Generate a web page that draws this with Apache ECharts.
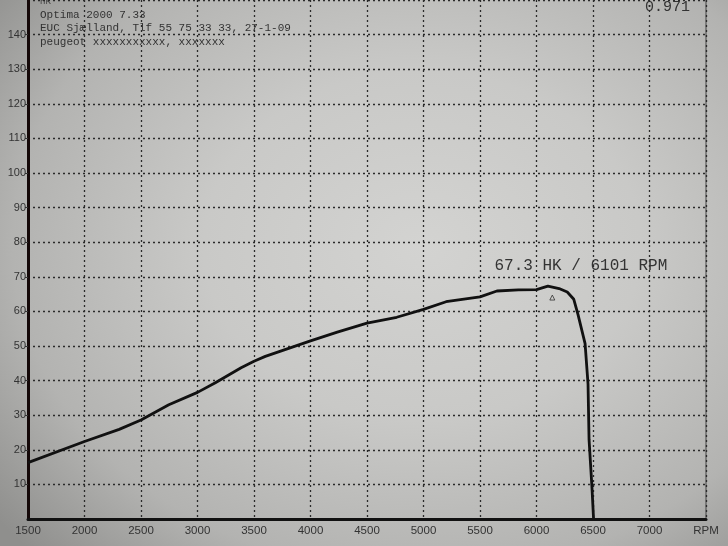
<!DOCTYPE html>
<html>
<head>
<meta charset="utf-8">
<script src="https://cdn.jsdelivr.net/npm/echarts@6/dist/echarts.min.js"></script>
<style>
html,body{margin:0;padding:0;width:728px;height:546px;overflow:hidden;
background: radial-gradient(ellipse 75% 80% at 58% 45%, #d3d3d1 0%, #c9c9c7 40%, #b3b3b1 75%, #8f8f8d 100%);}
#c{width:728px;height:546px;}
</style>
</head>
<body>
<div id="c"></div>
<script>
// Power curve (HK) vs engine speed (RPM)
const rpm = [1500, 2000, 2307, 2500, 2746, 3000, 3158, 3386, 3500, 3600, 4000, 4237, 4500, 4763, 5000, 5200, 5500, 5650, 5840, 6000, 6101, 6200, 6272, 6330, 6368, 6430, 6456, 6465, 6491, 6505];
const hk  = [16.3, 22.4, 25.9, 28.6, 33.0, 36.6, 39.4, 43.7, 45.6, 47.0, 51.5, 54.0, 56.6, 58.3, 60.6, 62.8, 64.2, 65.9, 66.2, 66.3, 67.3, 66.6, 65.6, 63.5, 59.0, 50.7, 39.0, 23.0, 9.0, 0];
const peak = {rpm: 6101, hk: 67.3};
const marker = {rpm: 6140, hk: 64.0};
const headerLines = ["Optima 2000 7.33", "EUC Sjælland, Tlf 55 75 33 33, 27-1-09", "peugeot xxxxxxxxxxx, xxxxxxx"];
const corrFactor = "0.971";
const yName = "HK";
const xName = "RPM";

const mono = "'Liberation Mono', 'DejaVu Sans Mono', monospace";
const chart = echarts.init(document.getElementById('c'), null, {renderer: 'canvas'});
chart.setOption({
  backgroundColor: 'transparent',
  animation: false,
  grid: {left: 28, right: 22, top: -6, bottom: 27, containLabel: false},
  xAxis: {
    type: 'value', min: 1500, max: 7500, interval: 500,
    axisLine: {show: true, onZero: false, lineStyle: {color: '#111', width: 3}},
    axisTick: {show: false},
    axisLabel: {color: '#333', fontSize: 11.5, fontFamily: "'Liberation Sans', Arial, sans-serif", margin: 6,
      formatter: v => v === 7500 ? xName : String(v)},
    splitLine: {show: true, lineStyle: {color: '#2a2a2a', type: [2, 3], width: 1.3}}
  },
  yAxis: {
    type: 'value', min: 0, max: 150, interval: 10,
    axisLine: {show: true, onZero: false, lineStyle: {color: '#140808', width: 3}},
    axisTick: {show: true, length: 3, lineStyle: {color: '#333'}},
    axisLabel: {color: '#333', fontSize: 11, fontFamily: "'Liberation Sans', Arial, sans-serif", margin: 2,
      showMaxLabel: false, showMinLabel: false},
    splitLine: {show: true, lineStyle: {color: '#2a2a2a', type: [2, 3], width: 1.3}}
  },
  graphic: [
    {type: 'line', shape: {x1: 706, y1: 0, x2: 706, y2: 519}, style: {stroke: '#444', lineWidth: 1}},
    {type: 'text', left: 40, top: -3, style: {text: yName, font: "9px " + mono, fill: '#444'}},
    {type: 'text', left: 40, top: 10, style: {text: headerLines[0], font: "11px " + mono, fill: '#333'}},
    {type: 'text', left: 40, top: 23, style: {text: headerLines[1], font: "11px " + mono, fill: '#333'}},
    {type: 'text', left: 40, top: 37, style: {text: headerLines[2], font: "11px " + mono, fill: '#333'}},
    {type: 'text', left: 645, top: 0, style: {text: corrFactor, font: "15px " + mono, fill: '#333'}}
  ],
  series: [
    {
      type: 'line',
      data: rpm.map((r, i) => [r, hk[i]]),
      showSymbol: false,
      smooth: false,
      lineStyle: {color: '#111', width: 2.8},
      markPoint: {
        symbol: 'circle', symbolSize: 0,
        data: [{coord: [peak.rpm, peak.hk], value: peak.hk}],
        label: {show: true, position: 'top', offset: [33, -7],
          formatter: () => peak.hk.toFixed(1) + ' HK / ' + peak.rpm + ' RPM',
          color: '#333', fontSize: 16, fontFamily: mono}
      }
    },
    {
      type: 'scatter',
      data: [[marker.rpm, marker.hk]],
      symbol: 'triangle', symbolSize: 5,
      itemStyle: {color: 'transparent', borderColor: '#333', borderWidth: 1}
    }
  ]
});
</script>
</body>
</html>
